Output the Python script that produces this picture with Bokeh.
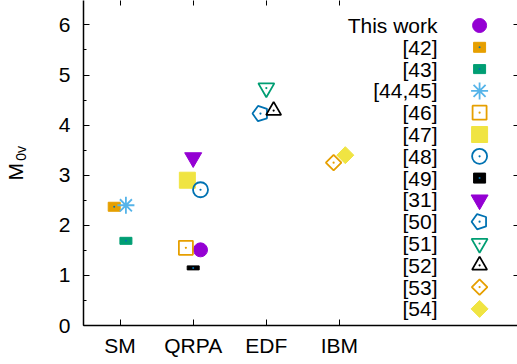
import math
from bokeh.plotting import figure
from bokeh.models import FixedTicker, SingleIntervalTicker, LinearAxis, Label, Range1d
from bokeh.embed import file_html
from bokeh.resources import INLINE

# ---------------- data ----------------
methods = ["SM", "QRPA", "EDF", "IBM"]
method_pos = [1, 2, 3, 4]
refs = ["This work", "[42]", "[43]", "[44,45]", "[46]", "[47]", "[48]",
        "[49]", "[31]", "[50]", "[51]", "[52]", "[53]", "[54]"]
ref_x = [2.10, 0.92, 1.08, 1.08, 1.90, 1.92, 2.10, 2.00, 2.00, 2.92, 3.00, 3.10, 3.92, 4.08]
ref_y = [1.51, 2.37, 1.69, 2.40, 1.55, 2.90, 2.71, 1.15, 3.35, 4.23, 4.74, 4.29, 3.25, 3.40]
box_heights = {"[42]": 0.18, "[43]": 0.14, "[49]": 0.08}
y_label_main = "M"
y_label_sub = "0v"

# ---------------- style ----------------
PURPLE = "#9400d3"; GREEN = "#009e73"; SKY = "#56b4e9"; ORANGE = "#e69f00"
YELLOW = "#f0e442"; BLUE = "#0072b2"; BLACK = "#000000"
FONT = "Liberation Sans"
FS = "21px"
NBSP = "\u00a0"

styles = {
    "This work": dict(kind="circle", color=PURPLE, fill=True, size=14),
    "[42]": dict(kind="box", color=ORANGE),
    "[43]": dict(kind="box", color=GREEN),
    "[44,45]": dict(kind="asterisk", color=SKY, fill=False, size=17),
    "[46]": dict(kind="square", color=ORANGE, fill=False, size=14, dot=True),
    "[47]": dict(kind="square", color=YELLOW, fill=True, size=16),
    "[48]": dict(kind="circle", color=BLUE, fill=False, size=15, dot=True),
    "[49]": dict(kind="box", color=BLACK),
    "[31]": dict(kind="inverted_triangle", color=PURPLE, fill=True, size=17),
    "[50]": dict(kind="pentagon", color=BLUE, fill=False, size=8, dot=True),
    "[51]": dict(kind="inverted_triangle", color=GREEN, fill=False, size=16, dot=True),
    "[52]": dict(kind="triangle", color=BLACK, fill=False, size=15, dot=True),
    "[53]": dict(kind="diamond", color=ORANGE, fill=False, size=11, dot=True),
    "[54]": dict(kind="diamond", color=YELLOW, fill=True, size=12),
}

W, H = 517, 364
BL, BB = 82, 39
frame_w, frame_h = W - BL, H - BB
PPX, PPY = 73.3, 50.1
X0 = 0.5
X1 = X0 + frame_w / PPX
Y0 = 0.0
Y1 = frame_h / PPY

p = figure(width=W, height=H, output_backend="svg", toolbar_location=None,
           x_range=Range1d(X0, X1), y_range=Range1d(Y0, Y1),
           min_border_left=BL, min_border_bottom=BB, min_border_top=0, min_border_right=0)
p.outline_line_color = None
p.xgrid.visible = False
p.ygrid.visible = False
p.background_fill_color = "white"
p.border_fill_color = "white"

LW = 1.8


def draw(x, y, st, box_h=None, box_units="data"):
    k = st["kind"]; c = st["color"]
    if k == "box":
        p.rect(x=[x], y=[y], width=12, width_units="screen", height=box_h,
               height_units=box_units, fill_color=c, line_color=c, line_width=1)
        p.scatter(x=[x], y=[y], marker="circle", size=2, fill_color=BLUE, line_color=None)
        return
    fill = c if st.get("fill") else None
    if k == "pentagon":
        try:
            p.ngon(x=[x], y=[y], radius=st["size"], radius_units="screen", n=5,
                   angle=math.pi / 2, fill_color=None, line_color=c, line_width=LW)
        except Exception:
            p.scatter(x=[x], y=[y], marker="hex", size=16, fill_color=None,
                      line_color=c, line_width=LW)
    elif k == "diamond":
        p.scatter(x=[x], y=[y], marker="square", angle=math.pi / 4, size=st["size"],
                  fill_color=fill, line_color=c, line_width=LW if not fill else 1)
    else:
        p.scatter(x=[x], y=[y], marker=k, size=st["size"], fill_color=fill,
                  line_color=c, line_width=LW if not fill else 1)
    if st.get("dot"):
        p.scatter(x=[x], y=[y], marker="circle", size=2.2, fill_color=c, line_color=None)


for r, xv, yv in zip(refs, ref_x, ref_y):
    draw(xv, yv, styles[r], box_heights.get(r))

# ---------------- legend (layout in pixels; labels are frame-relative) ----------------
LEG_TOP = 25.0
LEG_STEP = 21.8
LEG_TEXT_RIGHT = 436.0
LEG_SYM_X = 479.0
legend_box_px = {"[42]": 10, "[43]": 9, "[49]": 10}
for i, r in enumerate(refs):
    ypage = LEG_TOP + i * LEG_STEP
    p.add_layout(Label(x=LEG_TEXT_RIGHT - BL, y=frame_h - ypage, x_units="screen", y_units="screen",
                       text=r, text_align="right", text_baseline="middle",
                       text_font=FONT, text_font_size=FS, text_color="black"))
    xd = X0 + (LEG_SYM_X - BL) / PPX
    yd = (frame_h - ypage) / PPY
    draw(xd, yd, styles[r], legend_box_px.get(r), "screen")

# ---------------- axes ----------------
p.xaxis.ticker = FixedTicker(ticks=method_pos)
p.xaxis.major_label_overrides = {pos: m for pos, m in zip(method_pos, methods)}
p.yaxis.ticker = SingleIntervalTicker(interval=1, num_minor_ticks=2)
for ax in (p.xaxis[0], p.yaxis[0]):
    ax.major_tick_in = 6
    ax.major_tick_out = 0
    ax.minor_tick_in = 3
    ax.minor_tick_out = 0
    ax.axis_line_width = 1.5
    ax.axis_line_color = "black"
    ax.major_tick_line_color = "black"
    ax.minor_tick_line_color = "black"
    ax.major_label_text_font = FONT
    ax.major_label_text_color = "black"
    ax.major_label_text_font_size = FS
p.xaxis.minor_tick_line_color = None
p.xaxis.major_label_standoff = 8
p.yaxis.major_label_standoff = 13

# subscript part of the y label, on the main y axis (nbsp padding shifts it upward)
p.yaxis.axis_label = NBSP * 5 + y_label_sub
p.yaxis.axis_label_text_font = FONT
p.yaxis.axis_label_text_font_size = "14px"
p.yaxis.axis_label_text_font_style = "normal"
p.yaxis.axis_label_text_color = "black"
p.yaxis.axis_label_standoff = 27

# main "M" of the y label, on an extra bare axis further out
lab_axis = LinearAxis(ticker=FixedTicker(ticks=[]), axis_line_color=None,
                      major_tick_in=0, major_tick_out=0, minor_tick_in=0, minor_tick_out=0,
                      major_label_standoff=0, major_label_text_font_size="1px",
                      axis_label=y_label_main + NBSP * 3, axis_label_standoff=-17,
                      axis_label_text_font=FONT, axis_label_text_font_size=FS,
                      axis_label_text_font_style="normal", axis_label_text_color="black")
p.add_layout(lab_axis, "left")

right = LinearAxis(ticker=SingleIntervalTicker(interval=1, num_minor_ticks=0),
                   axis_line_color=None, major_tick_in=4, major_tick_out=0,
                   minor_tick_line_color=None, major_label_text_color=None,
                   major_label_text_font_size="1px", major_label_standoff=0)
p.add_layout(right, "right")
top = LinearAxis(ticker=FixedTicker(ticks=method_pos),
                 axis_line_color=None, major_tick_in=5, major_tick_out=0,
                 minor_tick_line_color=None, major_label_text_color=None,
                 major_label_text_font_size="1px", major_label_standoff=0)
p.add_layout(top, "above")

open("out.html", "w").write(file_html(p, INLINE))
